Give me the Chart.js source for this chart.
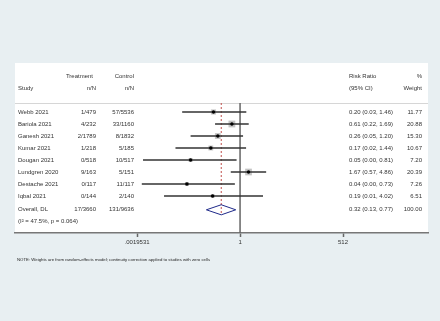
<html>
<head>
  <title>Forest plot - Risk Ratio</title>
  <script src="https://cdn.jsdelivr.net/npm/chart.js"></script>
  <style>
    body { margin: 0; background: #e8eff2; }
    #wrap { width: 440px; height: 321px; }
  </style>
</head>
<body>
  <div id="wrap"><canvas id="forest"></canvas></div>
  <script>
    const studies = ["Webb 2021", "Bariola 2021", "Ganesh 2021", "Kumar 2021", "Dougan 2021", "Lundgren 2020", "Destache 2021", "Iqbal 2021"];
    const treatment = ["1/479", "4/232", "2/1789", "1/218", "0/518", "9/163", "0/117", "0/144"];
    const control = ["57/5536", "33/1160", "8/1832", "5/185", "10/517", "5/151", "11/117", "2/140"];
    const rr = [0.20, 0.61, 0.26, 0.17, 0.05, 1.67, 0.04, 0.19];
    const lower = [0.03, 0.22, 0.05, 0.02, 0.0028, 0.57, 0.0026, 0.01];
    const upper = [1.46, 1.69, 1.20, 1.44, 0.81, 4.86, 0.73, 4.02];
    const weights = [11.77, 20.88, 15.30, 10.67, 7.20, 20.39, 7.26, 6.51];

    const overallLabel = "Overall, DL";
    const overallCounts = ["17/3660", "131/9636"];
    const overallRR = [0.32, 0.13, 0.77];   // estimate, lower, upper
    const overallWeight = "100.00";
    const hetText = "(I\u00B2 = 47.5%, p = 0.064)";
    const noteText = "NOTE: Weights are from random-effects model; continuity correction applied to studies with zero cells";

    const tickVals = [1 / 512, 1, 512];
    const tickLabels = [".0019531", "1", "512"];

    const FONT = "'Liberation Sans', Arial, sans-serif";
    const OVERALL_ROW = 8.15, HET_ROW = 9.15;

    const fmt = v => v.toFixed(2);

    // white panel, separator and all table text
    const tablePlugin = {
      id: 'table',
      beforeDraw(c) {
        const ctx = c.ctx, a = c.chartArea;
        ctx.save();
        ctx.fillStyle = '#e8eff2';
        ctx.fillRect(0, 0, c.width, c.height);
        ctx.fillStyle = '#ffffff';
        ctx.fillRect(a.left, a.top, a.right - a.left, a.bottom - a.top);
        const sy = Math.round(c.scales.y.getPixelForValue(-0.75)) + 0.5;
        ctx.strokeStyle = '#d6d6d6';
        ctx.lineWidth = 1;
        ctx.beginPath();
        ctx.moveTo(a.left, sy);
        ctx.lineTo(a.right, sy);
        ctx.stroke();
        ctx.restore();
      },
      afterDraw(c) {
        const ctx = c.ctx, y = c.scales.y;
        ctx.save();
        ctx.fillStyle = '#333';
        ctx.font = '6px ' + FONT;
        ctx.textBaseline = 'middle';
        const put = (txt, x, row, align) => {
          ctx.textAlign = align;
          ctx.fillText(txt, x, y.getPixelForValue(row));
        };
        // headers
        put("Treatment", 93, -3, 'right');
        put("Control", 134, -3, 'right');
        put("Risk Ratio", 349, -3, 'left');
        put("%", 422, -3, 'right');
        put("Study", 18, -2, 'left');
        put("n/N", 96, -2, 'right');
        put("n/N", 134, -2, 'right');
        put("(95% CI)", 349, -2, 'left');
        put("Weight", 422, -2, 'right');
        // studies
        studies.forEach((s, i) => {
          put(s, 18, i, 'left');
          put(treatment[i], 96, i, 'right');
          put(control[i], 134, i, 'right');
          put(fmt(rr[i]) + " (" + fmt(lower[i]) + ", " + fmt(upper[i]) + ")", 349, i, 'left');
          put(weights[i].toFixed(2), 422, i, 'right');
        });
        put(overallLabel, 18, OVERALL_ROW, 'left');
        put(overallCounts[0], 96, OVERALL_ROW, 'right');
        put(overallCounts[1], 134, OVERALL_ROW, 'right');
        put(fmt(overallRR[0]) + " (" + fmt(overallRR[1]) + ", " + fmt(overallRR[2]) + ")", 349, OVERALL_ROW, 'left');
        put(overallWeight, 422, OVERALL_ROW, 'right');
        put(hetText, 18, HET_ROW, 'left');
        // note below the axis
        ctx.font = '4.3px ' + FONT;
        ctx.fillStyle = '#222';
        ctx.textAlign = 'left';
        ctx.fillText(noteText, 17, 260);
        ctx.restore();
      }
    };

    const points = rr.map((v, i) => ({ x: v, y: i }));

    const ciSets = rr.map((v, i) => ({
      data: [{ x: lower[i], y: i }, { x: upper[i], y: i }],
      showLine: true, borderColor: '#333', borderWidth: 1.3, pointRadius: 0, order: 2
    }));

    const datasets = [
      {
        data: points, pointStyle: 'circle', pointRadius: 1.7,
        backgroundColor: '#000', borderWidth: 0, order: 0
      },
      ...ciSets,
      {
        data: points, pointStyle: 'rect', pointRadius: weights.map(w => Math.sqrt(w) * 1.05),
        backgroundColor: '#c4c4c4', borderWidth: 0, order: 3
      },
      {
        data: [{ x: 1, y: -0.75 }, { x: 1, y: 10.1 }],
        showLine: true, borderColor: '#666', borderWidth: 1.5, pointRadius: 0, order: 4
      },
      {
        data: [{ x: overallRR[0], y: -0.75 }, { x: overallRR[0], y: OVERALL_ROW + 0.42 }],
        showLine: true, borderColor: '#c0504d', borderWidth: 1, borderDash: [2, 2], pointRadius: 0, order: 4
      },
      {
        data: [
          { x: overallRR[1], y: OVERALL_ROW },
          { x: overallRR[0], y: OVERALL_ROW - 0.42 },
          { x: overallRR[2], y: OVERALL_ROW },
          { x: overallRR[0], y: OVERALL_ROW + 0.42 },
          { x: overallRR[1], y: OVERALL_ROW }
        ],
        showLine: true, borderColor: '#1f2a8a', borderWidth: 1, pointRadius: 0, tension: 0, order: 1
      }
    ];

    new Chart(document.getElementById('forest'), {
      type: 'scatter',
      data: { datasets },
      options: {
        responsive: true,
        maintainAspectRatio: false,
        animation: false,
        layout: { padding: { left: 15, right: 12, top: 63, bottom: 68 } },
        plugins: { legend: { display: false }, tooltip: { enabled: false } },
        scales: {
          x: {
            type: 'logarithmic',
            min: 1.2e-6,
            max: 8.8e4,
            afterBuildTicks: s => { s.ticks = tickVals.map(v => ({ value: v })); },
            afterFit: s => { s.height = 20; },
            ticks: {
              callback: (v, i) => tickLabels[i],
              autoSkip: false, maxRotation: 0, padding: 2,
              color: '#333', font: { size: 6, family: FONT }
            },
            grid: { drawOnChartArea: false, drawTicks: true, tickLength: 4, tickColor: '#666', tickWidth: 1.5 },
            border: { color: '#777', width: 1.5 }
          },
          y: { type: 'linear', reverse: true, min: -4.0833, max: 10.0833, display: false }
        }
      },
      plugins: [tablePlugin]
    });
  </script>
</body>
</html>
